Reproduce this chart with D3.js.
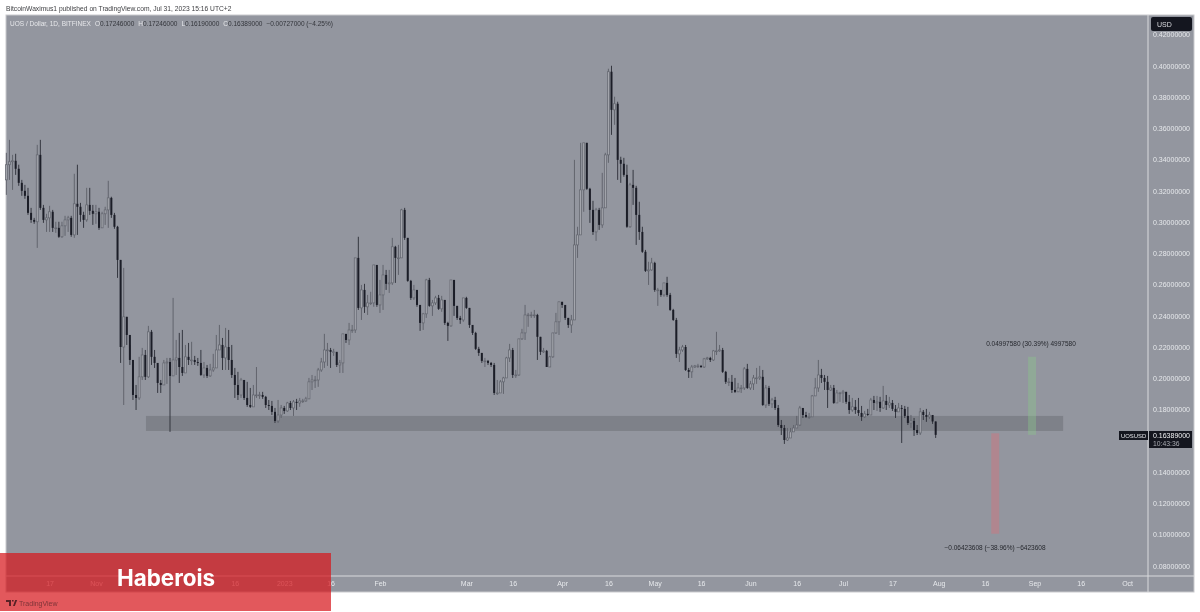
<!DOCTYPE html>
<html>
<head>
<meta charset="utf-8">
<style>
  html, body { margin: 0; padding: 0; background: #fff; }
  svg { display: block; font-family: "Liberation Sans", sans-serif; filter: blur(0.3px); }
  .axis text { fill: #e6e8eb; font-size: 7px; }
  .axis path { stroke: #d9dadd; stroke-width: 1; }
</style>
<script src="https://cdn.jsdelivr.net/npm/d3@7"></script>
</head>
<body>
<svg id="chart" width="1200" height="612"></svg>
<script>
/* ---------- data: daily candles, 2022-10-03 to 2023-07-31 ---------- */
const firstOpen = 0.3270;

const closes = [
  .3367,.3386,.3392,.3341,.3251,.3200,.3168,.3059,.3014,.3002,
  .3430,.3091,.3014,.3027,.3066,.2963,.2963,.2906,.2976,.3014,
  .3027,.2918,.3117,.3098,.3046,.3014,.3110,.3072,.3053,.3066,
  .2963,.3053,.3078,.3155,.3046,.2970,.2758,.2201,.2394,.2278,
  .2118,.1894,.1875,.2010,.2150,.2010,.2298,.2138,.2099,.1971,
  .1958,.2099,.2105,.2016,.2118,.2131,.2073,.2035,.2138,.2118,
  .2118,.2105,.2099,.2022,.2067,.2016,.2054,.2067,.2182,.2214,
  .2131,.2201,.2118,.2022,.1958,.1894,.1990,.1875,.1830,.1818,
  .1894,.1894,.1894,.1882,.1830,.1824,.1786,.1728,.1766,.1811,
  .1792,.1843,.1811,.1850,.1843,.1856,.1856,.1869,.1978,.1990,
  .1990,.2054,.2105,.2182,.2182,.2170,.2170,.2086,.2099,.2285,
  .2246,.2310,.2310,.2771,.2451,.2566,.2458,.2483,.2483,.2726,
  .2470,.2534,.2662,.2605,.2611,.2842,.2771,.2771,.3078,.2899,
  .2624,.2515,.2566,.2470,.2355,.2413,.2630,.2464,.2483,.2515,
  .2445,.2502,.2355,.2336,.2630,.2464,.2387,.2374,.2515,.2451,
  .2342,.2291,.2189,.2163,.2112,.2112,.2099,.2086,.1907,.1907,
  .1978,.2003,.2131,.2182,.2022,.2022,.2253,.2291,.2406,.2406,
  .2406,.2406,.2266,.2170,.2176,.2073,.2138,.2291,.2362,.2490,
  .2470,.2387,.2342,.2374,.2854,.2918,.3206,.3507,.3213,.3078,
  .2937,.3078,.2982,.3091,.3430,.3962,.3718,.3757,.3398,.3373,
  .3302,.2970,.3238,.3219,.3046,.2937,.2810,.2688,.2694,.2739,
  .2566,.2566,.2534,.2611,.2534,.2438,.2374,.2157,.2182,.2201,
  .2054,.2042,.2073,.2080,.2080,.2073,.2125,.2131,.2118,.2176,
  .2176,.2182,.2042,.1978,.1978,.1926,.1914,.1939,.1939,.2061,
  .1939,.1965,.2003,.2003,.2010,.1830,.1939,.1837,.1862,.1811,
  .1702,.1683,.1606,.1619,.1658,.1683,.1702,.1811,.1766,.1754,
  .1754,.1888,.1939,.2022,.2003,.1978,.1926,.1939,.1843,.1907,
  .1907,.1914,.1850,.1798,.1818,.1798,.1779,.1754,.1773,.1766,
  .1862,.1843,.1850,.1811,.1856,.1830,.1843,.1805,.1786,.1811,
  .1805,.1760,.1715,.1728,.1670,.1651,.1786,.1766,.1754,.1766,
  .17246,.16389
];

const highs = [
  .3443,.3526,.3430,.3437,.3367,.3270,.3238,.3219,.3091,.3027,
  .3494,.3526,.3110,.3053,.3104,.3078,.3002,.3002,.3002,.3040,
  .3040,.3040,.3309,.3367,.3123,.3066,.3219,.3219,.3110,.3110,
  .3091,.3066,.3098,.3264,.3162,.3059,.2976,.2758,.2707,.2394,
  .2214,.2118,.1958,.2138,.2195,.2182,.2336,.2310,.2182,.2086,
  .1990,.2118,.2131,.2131,.2515,.2246,.2291,.2310,.2214,.2227,
  .2234,.2144,.2131,.2182,.2105,.2086,.2093,.2157,.2278,.2342,
  .2259,.2323,.2310,.2214,.2067,.2042,.2003,.1990,.1978,.1939,
  .1958,.2073,.1914,.1914,.1888,.1862,.1856,.1811,.1862,.1830,
  .1824,.1850,.1856,.1862,.1869,.1875,.1869,.1882,.2003,.2022,
  .2016,.2067,.2131,.2285,.2227,.2195,.2189,.2163,.2118,.2285,
  .2278,.2355,.2342,.2771,.2906,.2598,.2605,.2534,.2554,.2726,
  .2714,.2630,.2726,.2694,.2694,.2899,.2848,.2854,.3085,.3091,
  .2899,.2630,.2598,.2566,.2470,.2419,.2637,.2643,.2502,.2528,
  .2534,.2528,.2502,.2362,.2630,.2630,.2464,.2400,.2515,.2522,
  .2451,.2336,.2298,.2202,.2163,.2131,.2118,.2105,.2099,.1990,
  .1990,.2010,.2138,.2221,.2195,.2054,.2253,.2317,.2470,.2419,
  .2426,.2438,.2413,.2266,.2195,.2182,.2144,.2291,.2419,.2490,
  .2490,.2464,.2387,.2406,.3398,.2970,.3507,.3507,.3507,.3219,
  .3136,.3091,.3091,.3315,.3443,.3981,.4000,.3802,.3770,.3418,
  .3411,.3367,.3251,.3334,.3232,.3130,.2970,.2822,.2746,.2771,
  .2746,.2579,.2566,.2611,.2650,.2547,.2445,.2387,.2202,.2214,
  .2214,.2067,.2086,.2086,.2093,.2086,.2131,.2138,.2138,.2182,
  .2298,.2214,.2195,.2048,.2003,.2022,.2003,.1971,.1958,.2073,
  .2093,.1984,.2022,.2067,.2080,.2054,.1958,.1952,.1875,.1882,
  .1830,.1734,.1702,.1683,.1683,.1702,.1760,.1824,.1798,.1786,
  .1779,.1894,.2003,.2118,.2061,.2022,.2016,.1958,.1958,.1926,
  .1914,.1926,.1914,.1894,.1875,.1862,.1875,.1824,.1792,.1805,
  .1875,.1888,.1888,.1882,.1952,.1894,.1882,.1862,.1830,.1843,
  .1830,.1824,.1818,.1766,.1747,.1702,.1811,.1798,.1805,.1786,
  .1766,.17246
];

const lows = [
  .3174,.3270,.3206,.3302,.3232,.3168,.3149,.3046,.2995,.2989,
  .2835,.3078,.2995,.2937,.2937,.2937,.2931,.2899,.2899,.2912,
  .2937,.2906,.2899,.2918,.3002,.2963,.3002,.3046,.2982,.2989,
  .2950,.2963,.2982,.2963,.3027,.2957,.2643,.2099,.1830,.2214,
  .2086,.1862,.1798,.1862,.1990,.1990,.2003,.2086,.2067,.1907,
  .1907,.1958,.1965,.1658,.2042,.2022,.1971,.2016,.2035,.2086,
  .2086,.2086,.2080,.2016,.2003,.2003,.2010,.2042,.2067,.2182,
  .2054,.2054,.2054,.2003,.1875,.1862,.1875,.1862,.1818,.1811,
  .1824,.1875,.1869,.1869,.1811,.1798,.1766,.1715,.1715,.1747,
  .1773,.1786,.1798,.1760,.1798,.1818,.1843,.1850,.1869,.1926,
  .1939,.1946,.2042,.2067,.2080,.2067,.2144,.2073,.2035,.2035,
  .2227,.2214,.2291,.2291,.2438,.2374,.2419,.2406,.2470,.2458,
  .2458,.2419,.2438,.2566,.2547,.2598,.2611,.2662,.2771,.2886,
  .2618,.2502,.2502,.2458,.2304,.2310,.2387,.2458,.2400,.2470,
  .2438,.2426,.2342,.2240,.2330,.2400,.2374,.2349,.2362,.2445,
  .2323,.2278,.2182,.2144,.2099,.2073,.2086,.2073,.1894,.1894,
  .1926,.1901,.2003,.2105,.2003,.2003,.2016,.2246,.2246,.2330,
  .2387,.2387,.2118,.2150,.2163,.2073,.2073,.2131,.2285,.2278,
  .2451,.2374,.2323,.2291,.2374,.2771,.2963,.3066,.3206,.2995,
  .2918,.2880,.2950,.2963,.3091,.3379,.3558,.3622,.3270,.3251,
  .3290,.2963,.2963,.3110,.2854,.2886,.2803,.2681,.2598,.2688,
  .2554,.2464,.2522,.2522,.2522,.2432,.2368,.2131,.2105,.2170,
  .2048,.2003,.2003,.2067,.2067,.2067,.2067,.2118,.2105,.2112,
  .2150,.2170,.2035,.1965,.1952,.1907,.1907,.1914,.1907,.1926,
  .1933,.1926,.1926,.1965,.1990,.1824,.1811,.1824,.1811,.1798,
  .1690,.1638,.1581,.1600,.1638,.1658,.1683,.1696,.1747,.1747,
  .1741,.1754,.1888,.1914,.1971,.1926,.1811,.1920,.1837,.1843,
  .1850,.1843,.1837,.1773,.1786,.1773,.1760,.1728,.1747,.1760,
  .1766,.1798,.1792,.1786,.1805,.1798,.1811,.1792,.1747,.1792,
  .1587,.1747,.1702,.1683,.1632,.1638,.1638,.1734,.1722,.1741,
  .1709,.16190
];

// 0.16 sits under the last-price tag and 16 / Dec sit under the banner, so they are not listed
const priceTicks = [0.08,0.10,0.12,0.14,0.18,0.20,0.22,0.24,0.26,0.28,0.30,0.32,0.34,0.36,0.38,0.40,0.42];

const timeTickDates = ["2022-10-17","2022-11-01","2022-12-16","2023-01-01","2023-01-16","2023-02-01","2023-03-01","2023-03-16","2023-04-01","2023-04-16","2023-05-01","2023-05-16","2023-06-01","2023-06-16","2023-07-01","2023-07-17","2023-08-01","2023-08-16","2023-09-01","2023-09-16","2023-10-01"];
const timeTickLabels = ["17","Nov","16","2023","16","Feb","Mar","16","Apr","16","May","16","Jun","16","Jul","17","Aug","16","Sep","16","Oct"];

// drawn zone and the two measure bars: [start date, end date, top price, bottom price]
const zoneRange = ["2022-11-17T05:00Z", "2023-09-10T07:00Z", 0.1760, 0.1664];
const gainRange = ["2023-08-29T22:00Z", "2023-09-01T12:00Z", 0.21387, 0.16389];
const lossRange = ["2023-08-18T00:00Z", "2023-08-20T14:00Z", 0.16489, 0.10065];

const gainLabel = "0.04997580 (30.39%) 4997580";
const lossLabel = "\u22120.06423608 (\u221238.96%) \u22126423608";

/* ---------- layout ---------- */
const svg = d3.select("#chart");
const plot = { left: 6, right: 1148, top: 15, bottom: 576, axisRight: 1194, axisBottom: 592 };

const dayDates = d3.utcDay.range(new Date("2022-10-03T00:00Z"), new Date("2023-08-01T00:00Z"));

const xScale = d3.scaleUtc()
  .domain([new Date("2022-10-02T21:00Z"), new Date("2023-10-07T18:40Z")])
  .range([plot.left, plot.right]);
const yScale = d3.scaleLinear().domain([0.08, 0.42]).range([566, 34.5]);

/* ---------- frame ---------- */
svg.append("rect").attr("x", plot.left).attr("y", plot.top)
  .attr("width", plot.axisRight - plot.left).attr("height", plot.axisBottom - plot.top)
  .attr("fill", "#93969f").attr("stroke", "#c9cacd").attr("stroke-width", 1);

svg.append("text").attr("x", 6).attr("y", 10.5).attr("font-size", 6.7).attr("fill", "#3c3d40")
  .text("BitcoinWaximus1 published on TradingView.com, Jul 31, 2023 15:16 UTC+2");

/* ---------- zone and measure bars ---------- */
function rangeRect(r, fill) {
  const x0 = xScale(new Date(r[0])), x1 = xScale(new Date(r[1]));
  return svg.append("rect").attr("x", x0).attr("width", x1 - x0)
    .attr("y", yScale(r[2])).attr("height", yScale(r[3]) - yScale(r[2]))
    .attr("fill", fill);
}
rangeRect(lossRange, "#b0868f");
rangeRect(zoneRange, "#7e8189");
rangeRect(gainRange, "rgba(140,200,140,0.38)");

/* ---------- candles ---------- */
const candles = dayDates.map((d, i) => ({
  date: d,
  open: i ? closes[i - 1] : firstOpen,
  close: closes[i],
  high: highs[i],
  low: lows[i]
}));

const candleG = svg.append("g").selectAll("g").data(candles).join("g")
  .attr("transform", d => `translate(${xScale(d.date)},0)`);

candleG.append("line")
  .attr("y1", d => yScale(d.high)).attr("y2", d => yScale(d.low))
  .attr("stroke", d => d.close < d.open ? "#2a2c35" : "#5c5f68")
  .attr("stroke-width", 0.9);

candleG.append("rect")
  .attr("x", -1).attr("width", 2)
  .attr("y", d => yScale(Math.max(d.open, d.close)))
  .attr("height", d => Math.max(0.8, Math.abs(yScale(d.open) - yScale(d.close))))
  .attr("fill", d => d.close < d.open ? "#1b1d27" : "#a3a5ac")
  .attr("stroke", d => d.close < d.open ? "none" : "#62656e")
  .attr("stroke-width", 0.7);

/* ---------- axes ---------- */
const yAxis = d3.axisRight(yScale).tickValues(priceTicks).tickSize(0).tickPadding(5)
  .tickFormat(d3.format(".8f"));
svg.append("g").attr("class", "axis").attr("transform", `translate(${plot.right},0)`).call(yAxis)
  .call(g => g.select(".domain").attr("d", `M0,${plot.top}V${plot.axisBottom}`));

const xAxis = d3.axisBottom(xScale)
  .tickValues(timeTickDates.map(d => new Date(d + "T00:00Z")))
  .tickSize(0).tickPadding(5)
  .tickFormat((d, i) => timeTickLabels[i]);
svg.append("g").attr("class", "axis").attr("transform", `translate(0,${plot.bottom})`).call(xAxis)
  .call(g => g.select(".domain").attr("d", `M${plot.left},0H${plot.axisRight}`));

/* ---------- legend and annotations ---------- */
const legend = svg.append("text").attr("x", 10).attr("y", 25.5).attr("font-size", 6.5).attr("fill", "#33353b");
legend.append("tspan").attr("fill", "#e6e7ea").text("UOS / Dollar, 1D, BITFINEX");
[["O", "0.17246000"], ["H", "0.17246000"], ["L", "0.16190000"], ["C", "0.16389000"]].forEach(p => {
  legend.append("tspan").attr("dx", 4).attr("fill", "#e6e7ea").text(p[0]);
  legend.append("tspan").text(p[1]);
});
legend.append("tspan").attr("dx", 4).text("\u22120.00727000 (\u22124.25%)");

svg.append("text").attr("x", 1031).attr("y", 345.5).attr("text-anchor", "middle")
  .attr("font-size", 6.5).attr("fill", "#26282e").text(gainLabel);
svg.append("text").attr("x", 995).attr("y", 549.5).attr("text-anchor", "middle")
  .attr("font-size", 6.5).attr("fill", "#26282e").text(lossLabel);

/* ---------- price tags ---------- */
svg.append("rect").attr("x", 1151).attr("y", 17).attr("width", 41).attr("height", 14).attr("rx", 2).attr("fill", "#14161f");
svg.append("text").attr("x", 1157).attr("y", 27).attr("font-size", 7).attr("fill", "#d9dade").text("USD");

svg.append("rect").attr("x", 1119).attr("y", 431).attr("width", 29).attr("height", 9).attr("fill", "#14161f");
svg.append("text").attr("x", 1121).attr("y", 438).attr("font-size", 5.9).attr("fill", "#e3e4e8").text("UOSUSD");
svg.append("rect").attr("x", 1149).attr("y", 431).attr("width", 43).attr("height", 17).attr("fill", "#14161f");
svg.append("text").attr("x", 1153).attr("y", 438).attr("font-size", 7).attr("fill", "#f0f1f3").text("0.16389000");
svg.append("text").attr("x", 1153).attr("y", 446).attr("font-size", 6.8).attr("fill", "#a9abb2").text("10:43:36");

/* ---------- watermark banner ---------- */
svg.append("rect").attr("x", 0).attr("y", 553).attr("width", 331).attr("height", 58)
  .attr("fill", "#d7171d").attr("fill-opacity", 0.72);
svg.append("text").attr("x", 117).attr("y", 585.5).attr("font-family", "Inter").attr("font-weight", 700)
  .attr("font-size", 22.4).attr("fill", "#fff").text("Haberois");
svg.append("path").attr("d", "M6,600h5v6h-2v-4h-3zM12,600h1.6v1.6h-1.6zM13,606l2.2,-6h2l-2.4,6z").attr("fill", "#5a2226");
svg.append("text").attr("x", 19).attr("y", 606).attr("font-size", 7).attr("fill", "#7d3438").text("TradingView");
</script>
</body>
</html>
